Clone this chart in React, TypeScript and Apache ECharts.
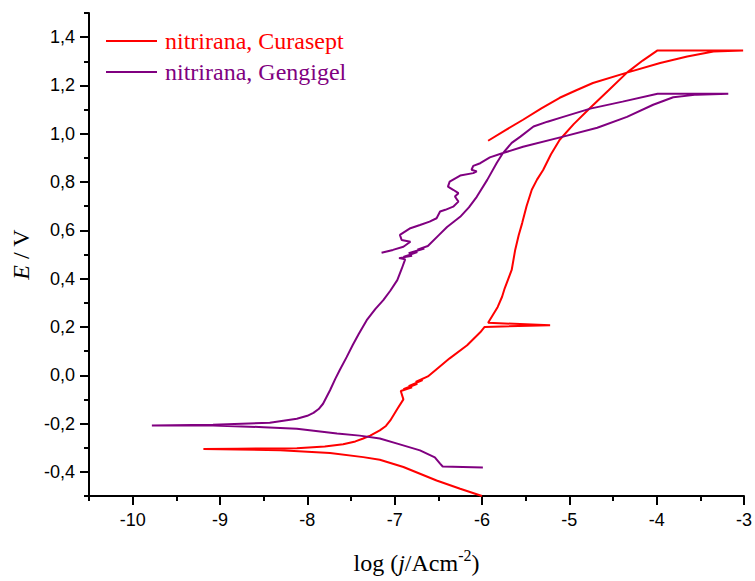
import React, { useEffect, useRef } from "react";
import * as echarts from "echarts";

// log(j / A cm^-2), E / V — Curasept (red)
const curasept: [number, number][] = [
  [-6.0, -0.5], [-6.25, -0.47], [-6.52, -0.436], [-6.9, -0.38], [-7.17, -0.35], [-7.36, -0.339],
  [-7.74, -0.322], [-8.31, -0.311], [-8.8, -0.307], [-9.19, -0.305],
  [-8.8, -0.304], [-8.12, -0.302], [-7.8, -0.295], [-7.59, -0.286], [-7.45, -0.274], [-7.36, -0.262],
  [-7.28, -0.25], [-7.17, -0.228], [-7.1, -0.21], [-7.05, -0.187], [-6.97, -0.14], [-6.9, -0.1],
  [-6.93, -0.065], [-6.8, -0.05], [-6.9, -0.058], [-6.74, -0.035], [-6.84, -0.045], [-6.68, -0.02],
  [-6.76, -0.028], [-6.62, -0.005],
  [-6.52, 0.025], [-6.37, 0.07], [-6.17, 0.124], [-6.02, 0.178], [-5.97, 0.2], [-5.22, 0.207],
  [-5.93, 0.217], [-5.82, 0.283], [-5.77, 0.325], [-5.74, 0.36], [-5.66, 0.436], [-5.62, 0.519],
  [-5.58, 0.58], [-5.54, 0.63], [-5.49, 0.7], [-5.43, 0.768], [-5.37, 0.81], [-5.3, 0.85],
  [-5.21, 0.915], [-5.11, 0.975], [-4.95, 1.04], [-4.76, 1.108], [-4.55, 1.18], [-4.34, 1.253],
  [-4.16, 1.303], [-3.99, 1.345], [-3.01, 1.345],
  [-3.35, 1.341], [-3.65, 1.32], [-3.96, 1.293], [-4.34, 1.253], [-4.73, 1.21], [-4.92, 1.18],
  [-5.11, 1.149], [-5.32, 1.105], [-5.53, 1.058], [-5.73, 1.015], [-5.93, 0.971],
];

// Gengigel (purple)
const gengigel: [number, number][] = [
  [-5.99, -0.382], [-6.45, -0.378], [-6.48, -0.366], [-6.54, -0.34], [-6.71, -0.311], [-6.97, -0.283],
  [-7.17, -0.262], [-7.4, -0.25], [-7.66, -0.241], [-8.12, -0.222], [-8.5, -0.215], [-9.08, -0.208],
  [-9.78, -0.208],
  [-9.08, -0.205], [-8.43, -0.197], [-8.12, -0.18], [-8.0, -0.168], [-7.93, -0.156], [-7.87, -0.14],
  [-7.82, -0.118], [-7.78, -0.09], [-7.74, -0.062], [-7.68, -0.015], [-7.63, 0.021], [-7.55, 0.075],
  [-7.48, 0.125], [-7.41, 0.172], [-7.32, 0.228], [-7.22, 0.275], [-7.13, 0.311], [-7.05, 0.35],
  [-6.97, 0.394],
  [-6.92, 0.44], [-6.88, 0.48], [-6.95, 0.485], [-6.8, 0.495], [-6.9, 0.49], [-6.74, 0.51],
  [-6.84, 0.505], [-6.66, 0.525], [-6.74, 0.52], [-6.62, 0.535],
  [-6.5, 0.578], [-6.4, 0.614], [-6.25, 0.656], [-6.15, 0.695], [-6.06, 0.739], [-5.94, 0.809],
  [-5.83, 0.88], [-5.76, 0.92], [-5.66, 0.962], [-5.56, 0.988], [-5.41, 1.03], [-5.25, 1.05],
  [-5.07, 1.07], [-4.76, 1.104], [-4.39, 1.133], [-3.99, 1.166], [-3.18, 1.166],
  [-3.54, 1.162], [-3.81, 1.151], [-4.04, 1.12], [-4.34, 1.07], [-4.68, 1.025], [-5.07, 0.988],
  [-5.53, 0.946], [-5.76, 0.92], [-5.91, 0.902], [-6.02, 0.878], [-6.1, 0.867], [-6.12, 0.851],
  [-6.06, 0.844], [-6.1, 0.837], [-6.25, 0.827], [-6.37, 0.802], [-6.39, 0.781], [-6.33, 0.768],
  [-6.27, 0.754], [-6.31, 0.74], [-6.27, 0.719], [-6.33, 0.698], [-6.42, 0.685], [-6.48, 0.678],
  [-6.52, 0.65], [-6.6, 0.636], [-6.71, 0.622], [-6.82, 0.609], [-6.94, 0.581], [-6.92, 0.56],
  [-6.82, 0.553], [-6.9, 0.532], [-7.02, 0.519], [-7.15, 0.507],
];

const xMajorTicks = [-10, -9, -8, -7, -6, -5, -4, -3];
const xMinorTicks = [-10.5, -9.5, -8.5, -7.5, -6.5, -5.5, -4.5, -3.5];
const yMajorTicks = [-0.4, -0.2, 0, 0.2, 0.4, 0.6, 0.8, 1.0, 1.2, 1.4];
const yMinorTicks = [-0.5, -0.3, -0.1, 0.1, 0.3, 0.5, 0.7, 0.9, 1.1, 1.3, 1.5];

const seriesNames = ["nitrirana, Curasept", "nitrirana, Gengigel"];
const seriesColors = ["#ff0000", "#800080"];

export default function App() {
  const ref = useRef<HTMLDivElement>(null);
  useEffect(() => {
    if (!ref.current) return;
    const chart = echarts.init(ref.current, undefined, { renderer: "svg" });
    const labelFont = { fontFamily: "Liberation Sans", fontSize: 18, color: "#000" };
    const axisLine = { show: true, onZero: false, lineStyle: { color: "#000", width: 2 } };
    const tickStyle = { color: "#000", width: 2 };
    chart.setOption({
      animation: false,
      backgroundColor: "#fff",
      grid: { left: 89, right: 11, top: 13, bottom: 85, containLabel: false },
      legend: {
        orient: "vertical",
        left: 106,
        top: 29,
        padding: 0,
        icon: "rect",
        itemWidth: 51,
        itemHeight: 2,
        itemGap: 7,
        data: seriesNames.map((n, i) => ({
          name: n,
          textStyle: { color: seriesColors[i] },
        })),
        textStyle: { fontFamily: "Liberation Serif", fontSize: 24, lineHeight: 24, padding: [0, 0, 0, 3] },
      },
      xAxis: [
        {
          type: "value",
          min: -10.5,
          max: -3,
          position: "bottom",
          axisLine,
          splitLine: { show: false },
          axisTick: { show: true, inside: false, length: 9, customValues: xMajorTicks, lineStyle: tickStyle },
          axisLabel: { ...labelFont, margin: 15, customValues: xMajorTicks, formatter: (v: number) => String(v) },
          name: "{a|log (}{i|j}{a|/Acm}{s|-2}{a|)}",
          nameLocation: "middle",
          nameGap: 51,
          nameTextStyle: {
            rich: {
              a: { fontFamily: "Liberation Serif", fontSize: 24, color: "#000" },
              i: { fontFamily: "Liberation Serif", fontSize: 24, fontStyle: "italic", color: "#000" },
              s: { fontFamily: "Liberation Serif", fontSize: 16, color: "#000", padding: [0, 0, 16, 0] },
            },
          },
        },
        {
          type: "value",
          min: -10.5,
          max: -3,
          position: "bottom",
          axisLine: { show: false, onZero: false },
          splitLine: { show: false },
          axisTick: { show: true, length: 5, customValues: xMinorTicks, lineStyle: tickStyle },
          axisLabel: { show: false },
        },
      ],
      yAxis: [
        {
          type: "value",
          min: -0.5,
          max: 1.5,
          position: "left",
          axisLine,
          splitLine: { show: false },
          axisTick: { show: true, length: 9, customValues: yMajorTicks, lineStyle: tickStyle },
          axisLabel: {
            ...labelFont,
            margin: 14,
            customValues: yMajorTicks,
            formatter: (v: number) => v.toFixed(1).replace(".", ","),
          },
          name: "{i|E}{a| / V}",
          nameLocation: "middle",
          nameGap: 55,
          nameRotate: 90,
          nameTextStyle: {
            rich: {
              a: { fontFamily: "Liberation Serif", fontSize: 24, color: "#000" },
              i: { fontFamily: "Liberation Serif", fontSize: 24, fontStyle: "italic", color: "#000" },
            },
          },
        },
        {
          type: "value",
          min: -0.5,
          max: 1.5,
          position: "left",
          axisLine: { show: false, onZero: false },
          splitLine: { show: false },
          axisTick: { show: true, length: 5, customValues: yMinorTicks, lineStyle: tickStyle },
          axisLabel: { show: false },
        },
      ],
      series: [
        {
          name: seriesNames[0],
          type: "line",
          data: curasept,
          symbol: "none",
          smooth: false,
          color: seriesColors[0],
          lineStyle: { width: 2, color: seriesColors[0] },
          xAxisIndex: 0,
          yAxisIndex: 0,
        },
        {
          name: seriesNames[1],
          type: "line",
          data: gengigel,
          symbol: "none",
          smooth: false,
          color: seriesColors[1],
          lineStyle: { width: 2, color: seriesColors[1] },
          xAxisIndex: 0,
          yAxisIndex: 0,
        },
      ],
    });
    return () => chart.dispose();
  }, []);
  return (
    <div
      ref={ref}
      style={{ position: "fixed", left: 0, top: 0, width: 755, height: 581, background: "#fff" }}
    />
  );
}
